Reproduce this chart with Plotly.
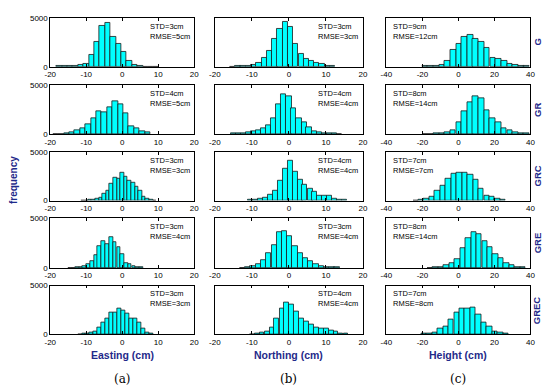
import plotly.graph_objects as go

# ---------------- data ----------------
rows_labels = ["G", "GR", "GRC", "GRE", "GREC"]
col_titles = ["Easting (cm)", "Northing (cm)", "Height (cm)"]
col_letters = ["(a)", "(b)", "(c)"]

std_vals = [[3, 3, 9], [4, 4, 8], [3, 4, 7], [3, 3, 8], [3, 4, 7]]
rmse_vals = [[5, 3, 12], [5, 4, 14], [3, 4, 7], [4, 4, 14], [3, 4, 8]]

# Easting
E_G_x = [-17.55, -16.05, -14.55, -13.05, -11.55, -10.05, -8.55, -7.05, -5.55, -4.05, -2.55, -1.05, 0.45, 1.95, 3.45, 4.95, 6.45, 7.95, 9.45]
E_G_y = [100, 60, 60, 80, 170, 330, 1230, 2570, 4170, 4500, 3070, 2330, 1570, 570, 230, 70, 30, 20, 10]
E_G_w = 1.5
E_GR_x = [-18.5, -17.0, -15.5, -14.0, -12.5, -11.0, -9.5, -8.0, -6.5, -5.0, -3.5, -2.0, -0.5, 1.0, 2.5, 4.0, 5.5, 7.0]
E_GR_y = [20, 30, 40, 150, 400, 600, 1000, 1600, 2300, 2200, 2700, 3400, 3100, 2100, 800, 550, 300, 150]
E_GR_w = 1.5
E_GRC_x = [-11, -10, -9, -8, -7, -6, -5, -4, -3, -2, -1, 0, 1, 2, 3, 4, 5, 6, 7, 8, 9]
E_GRC_y = [20, 30, 40, 70, 170, 340, 680, 1030, 1710, 2290, 2230, 2840, 2470, 2050, 1780, 1370, 960, 410, 170, 70, 30]
E_GRC_w = 1.0
E_GRE_x = [-14.6, -13.6, -12.6, -11.5, -10.5, -9.4, -8.4, -7.3, -6.3, -5.2, -4.2, -3.1, -2.1, -1.0, 0.0, 1.1, 2.1, 3.2, 4.2, 5.3]
E_GRE_y = [20, 30, 40, 60, 160, 390, 710, 1290, 2160, 2740, 2420, 3060, 2580, 2100, 1390, 480, 420, 230, 100, 40]
E_GRE_w = 1.05
E_GREC_x = [-11.8, -10.7, -9.6, -8.5, -7.4, -6.3, -5.2, -4.1, -3.0, -1.9, -0.8, 0.3, 1.4, 2.5, 3.6, 4.7, 5.8, 6.9, 8.0]
E_GREC_y = [30, 50, 100, 170, 310, 700, 1220, 1630, 2220, 2220, 2600, 2430, 2150, 1630, 1630, 1220, 590, 240, 70]
E_GREC_w = 1.1

# Northing
N_G_x = [-15.2, -13.8, -12.4, -10.9, -9.5, -8.1, -6.7, -5.3, -3.8, -2.4, -1.0, 0.4, 1.8, 3.3, 4.7, 6.1, 7.5, 8.9, 10.4, 11.8]
N_G_y = [30, 50, 70, 130, 230, 400, 900, 1630, 2900, 3900, 4570, 4070, 2330, 1330, 830, 570, 400, 300, 130, 70]
N_G_w = 1.42
N_GR_x = [-15.1, -13.7, -12.4, -11.0, -9.6, -8.3, -6.9, -5.5, -4.1, -2.8, -1.4, 0.0, 1.3, 2.7, 4.1, 5.4, 6.8, 8.2, 9.6, 11.0, 12.3, 13.7]
N_GR_y = [40, 100, 60, 170, 270, 430, 570, 930, 1670, 3070, 4070, 3830, 2670, 1670, 1170, 670, 330, 170, 100, 70, 50, 30]
N_GR_w = 1.37
N_GRC_x = [-10.3, -9.0, -7.6, -6.3, -5.0, -3.7, -2.3, -1.0, 0.35, 1.7, 3.0, 4.3, 5.7, 7.0, 8.3, 9.7, 11.0, 12.3, 13.6, 15.0]
N_GRC_y = [60, 130, 200, 330, 600, 1030, 2030, 3300, 4130, 2970, 2130, 1630, 1200, 870, 500, 470, 470, 230, 100, 40]
N_GRC_w = 1.33
N_GRE_x = [-12.6, -11.1, -9.7, -8.3, -6.9, -5.5, -4.0, -2.6, -1.2, 0.2, 1.6, 3.1, 4.5, 5.9, 7.3, 8.7, 10.2, 11.6, 13.0]
N_GRE_y = [30, 60, 160, 430, 750, 1500, 2320, 3560, 3730, 3240, 2160, 1500, 1010, 690, 360, 200, 130, 60, 40]
N_GRE_w = 1.42
N_GREC_x = [-9.9, -8.6, -7.3, -5.9, -4.6, -3.3, -1.9, -0.6, 0.7, 2.1, 3.4, 4.7, 6.1, 7.4, 8.7, 10.1, 11.4, 12.7, 14.0, 15.4]
N_GREC_y = [30, 70, 140, 310, 750, 1600, 2630, 3230, 3060, 2350, 1670, 1330, 990, 750, 580, 580, 410, 310, 120, 50]
N_GREC_w = 1.33

# Height
H_G_x = [-18.6, -15.5, -12.3, -9.2, -6.1, -2.9, 0.2, 3.4, 6.5, 9.6, 12.8, 15.9, 19.1, 22.2, 25.4, 28.5, 31.6, 34.8, 37.9]
H_G_y = [50, 100, 60, 230, 570, 1730, 2330, 3070, 3300, 2830, 2570, 1970, 900, 800, 570, 330, 170, 100, 50]
H_G_w = 3.14
H_GR_x = [-18.6, -15.5, -12.4, -9.2, -6.1, -3.0, 0.2, 3.3, 6.5, 9.6, 12.8, 15.9, 19.0, 22.2, 25.3, 28.5, 31.6, 34.7, 37.9]
H_GR_y = [30, 30, 40, 80, 170, 430, 1230, 2330, 3270, 3900, 3670, 2430, 1670, 1170, 570, 430, 230, 130, 100]
H_GR_w = 3.14
H_GRC_x = [-23.7, -20.7, -17.7, -14.6, -11.6, -8.6, -5.6, -2.5, 0.5, 3.5, 6.6, 9.6, 12.6, 15.7, 18.7, 21.7, 24.7]
H_GRC_y = [30, 70, 200, 400, 970, 1570, 2230, 2730, 2870, 2800, 2630, 2130, 1230, 530, 370, 200, 100]
H_GRC_w = 3.03
H_GRE_x = [-15.7, -12.7, -9.7, -6.7, -3.6, -0.6, 2.4, 5.5, 8.5, 11.5, 14.6, 17.6, 20.6, 23.7, 26.7, 29.7, 32.8, 35.8]
H_GRE_y = [30, 50, 100, 260, 460, 850, 2000, 2980, 3630, 3400, 2650, 2060, 1410, 950, 520, 260, 130, 60]
H_GRE_w = 3.03
H_GREC_x = [-19.2, -16.2, -13.1, -10.1, -7.1, -4.1, -1.0, 2.0, 5.0, 8.1, 11.1, 14.1, 17.2, 20.2, 23.2, 26.3]
H_GREC_y = [40, 70, 170, 580, 850, 1530, 2210, 2620, 2620, 2720, 2040, 1190, 850, 340, 170, 60]
H_GREC_w = 3.03

x_ticks_en = [-20, -10, 0, 10, 20]
x_ticks_h = [-40, -20, 0, 20, 40]
y_ticks = [0, 5000]

panels = [
    [(E_G_x, E_G_y, E_G_w), (N_G_x, N_G_y, N_G_w), (H_G_x, H_G_y, H_G_w)],
    [(E_GR_x, E_GR_y, E_GR_w), (N_GR_x, N_GR_y, N_GR_w), (H_GR_x, H_GR_y, H_GR_w)],
    [(E_GRC_x, E_GRC_y, E_GRC_w), (N_GRC_x, N_GRC_y, N_GRC_w), (H_GRC_x, H_GRC_y, H_GRC_w)],
    [(E_GRE_x, E_GRE_y, E_GRE_w), (N_GRE_x, N_GRE_y, N_GRE_w), (H_GRE_x, H_GRE_y, H_GRE_w)],
    [(E_GREC_x, E_GREC_y, E_GREC_w), (N_GREC_x, N_GREC_y, N_GREC_w), (H_GREC_x, H_GREC_y, H_GREC_w)],
]

# ---------------- layout geometry (pixels) ----------------
W, H = 550, 389
col_px = [(37, 184), (205, 356), (380, 527)]
row_px = [(6, 56), (75, 125), (143, 193), (211, 262), (280, 330)]

FONT = "Arial, 'Liberation Sans', sans-serif"
BLUE = "#1f2a8a"

fig = go.Figure()
layout = dict(
    width=W, height=H, margin=dict(l=0, r=0, t=0, b=0),
    paper_bgcolor="white", plot_bgcolor="white",
    showlegend=False, bargap=0,
    font=dict(family=FONT, size=8, color="black"),
)
annotations = []

k = 0
for r in range(5):
    for c in range(3):
        k += 1
        xs, ys, w = panels[r][c]
        xa = "x" if k == 1 else f"x{k}"
        ya = "y" if k == 1 else f"y{k}"
        fig.add_trace(go.Bar(
            x=xs, y=ys, width=w, xaxis=xa, yaxis=ya,
            marker=dict(color="#00FFFF", line=dict(color="#1a1a1a", width=0.8)),
            hoverinfo="x+y",
        ))
        x0, x1 = col_px[c]
        y0, y1 = row_px[r]
        ticks = x_ticks_h if c == 2 else x_ticks_en
        xk = "xaxis" if k == 1 else f"xaxis{k}"
        yk = "yaxis" if k == 1 else f"yaxis{k}"
        layout[xk] = dict(
            domain=[x0 / W, x1 / W], anchor=ya, range=[ticks[0], ticks[-1]],
            tickvals=ticks, ticktext=[str(t) for t in ticks],
            ticks="inside", ticklen=3, tickwidth=0.8, tickcolor="black",
            showline=True, linecolor="black", linewidth=0.8, mirror="ticks",
            showgrid=False, zeroline=False, tickfont=dict(size=8, family=FONT),
            fixedrange=True,
        )
        layout[yk] = dict(
            domain=[1 - y1 / H, 1 - y0 / H], anchor=xa, range=[0, 5000],
            tickvals=y_ticks, ticktext=[str(t) for t in y_ticks],
            showticklabels=(c == 0),
            ticks="inside", ticklen=3, tickwidth=0.8, tickcolor="black",
            showline=True, linecolor="black", linewidth=0.8, mirror="ticks",
            showgrid=False, zeroline=False, tickfont=dict(size=8, family=FONT),
            fixedrange=True,
        )
        tx = 0.035 if c == 2 else 0.68
        annotations.append(dict(
            xref=f"{xa} domain", yref=f"{ya} domain", x=tx, y=0.96,
            xanchor="left", yanchor="top", align="left", showarrow=False,
            text=f"STD={std_vals[r][c]}cm<br>RMSE={rmse_vals[r][c]}cm",
            font=dict(size=7.5, family=FONT, color="black"),
        ))

# row labels on the right
for r in range(5):
    y0, y1 = row_px[r]
    annotations.append(dict(
        xref="paper", yref="paper", x=534 / W, y=1 - (y0 + y1) / 2 / H,
        text=f"<b>{rows_labels[r]}</b>", textangle=-90, showarrow=False,
        xanchor="center", yanchor="middle",
        font=dict(size=9.5, family=FONT, color=BLUE),
    ))

# column titles and letters
for c in range(3):
    x0, x1 = col_px[c]
    annotations.append(dict(
        xref="paper", yref="paper", x=(x0 + x1) / 2 / W, y=1 - 351 / H,
        text=f"<b>{col_titles[c]}</b>", showarrow=False,
        xanchor="center", yanchor="middle",
        font=dict(size=10.5, family=FONT, color=BLUE),
    ))
    annotations.append(dict(
        xref="paper", yref="paper", x=(x0 + x1) / 2 / W, y=1 - 376 / H,
        text=col_letters[c], showarrow=False,
        xanchor="center", yanchor="middle",
        font=dict(size=12, family="'DejaVu Serif', 'Liberation Serif', serif", color="black"),
    ))

annotations.append(dict(
    xref="paper", yref="paper", x=-1 / W, y=1 - 172 / H,
    text="<b>frequency</b>", textangle=-90, showarrow=False,
    xanchor="center", yanchor="middle",
    font=dict(size=10, family=FONT, color=BLUE),
))

layout["annotations"] = annotations
fig.update_layout(**layout)
fig.write_html("out.html")
